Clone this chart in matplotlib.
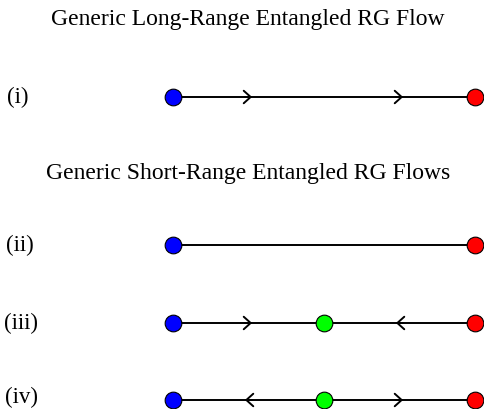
import matplotlib.pyplot as plt

# flow data: fixed points along each line, and arrow directions between them
row_labels = ['(i)', '(ii)', '(iii)', '(iv)']
row_points = [[0.0, 1.0], [0.0, 1.0], [0.0, 0.5, 1.0], [0.0, 0.5, 1.0]]
point_colors = [['#0000ff', '#ff0000'], ['#0000ff', '#ff0000'],
                ['#0000ff', '#00ff00', '#ff0000'], ['#0000ff', '#00ff00', '#ff0000']]
arrow_pos = [[0.25, 0.75], [], [0.25, 0.75], [0.25, 0.75]]
arrow_dir = [[1, 1], [], [1, -1], [-1, 1]]
titles = ['Generic Long-Range Entangled RG Flow', 'Generic Short-Range Entangled RG Flows']

plt.rcParams['font.family'] = ['Liberation Serif', 'DejaVu Serif']

W, H = 484, 409
fig = plt.figure(figsize=(W / 100, H / 100), dpi=100)
ax = fig.add_axes([0, 0, 1, 1])
ax.set_axis_off()

# pixel-ish layout
x0, x1 = 173, 475
def px(x):
    return (x - x0) / (x1 - x0)

row_y = [97, 245, 323, 400]
label_x = [7, 6, 4, 5]
title_y = [19, 173]
ax.set_xlim(px(0), px(W))
ax.set_ylim(H, 0)

for t, ty in zip(titles, title_y):
    ax.text(px(248), ty, t, ha='center', va='center', fontsize=17)

for lab, lx, pts, cols, apos, adir, y in zip(row_labels, label_x, row_points, point_colors,
                                             arrow_pos, arrow_dir, row_y):
    # keep the bottom label inside the figure
    ax.text(px(lx), min(y + 0.5, 397.5), lab, ha='left', va='center', fontsize=16.5)
    ax.plot([pts[0], pts[-1]], [y, y], color='black', lw=1.4, zorder=1)
    for p, d in zip(apos, adir):
        ax.annotate('', xy=(p + d * 0.012, y), xytext=(p - d * 0.012, y),
                    arrowprops=dict(arrowstyle='->,head_length=0.5,head_width=0.45',
                                    color='black', lw=1.4, shrinkA=0, shrinkB=0))
    for p, c in zip(pts, cols):
        ax.plot(p, y, 'o', ms=12, mfc=c, mec='black', mew=0.8, zorder=3)

fig.savefig('out.png', dpi=100)
